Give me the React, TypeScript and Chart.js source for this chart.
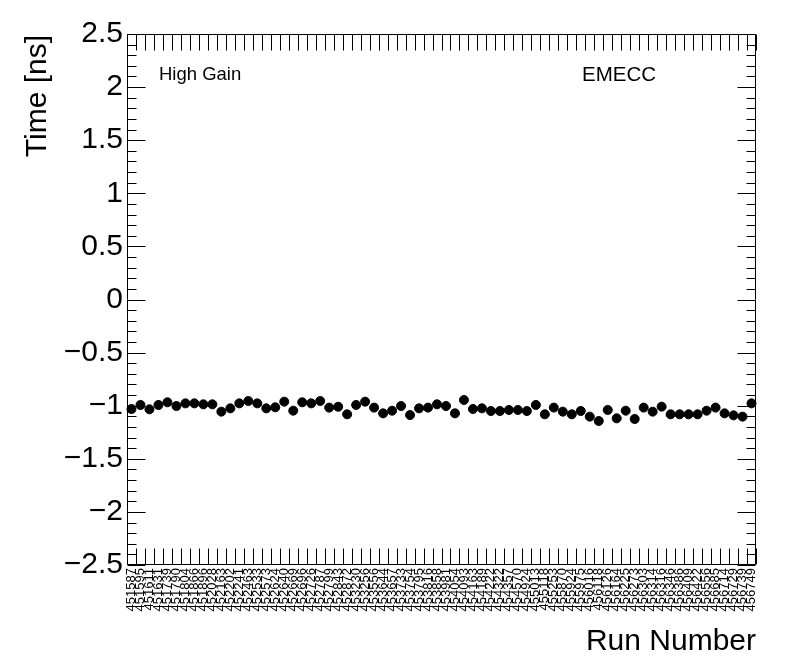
import React, { useEffect, useRef } from 'react';
import { Chart, registerables } from 'chart.js';
Chart.register(...registerables);

const runNumbers = [
  '451587', '451595', '451611', '451631', '451739', '451790', '451804', '451866', '451896', '452028',
  '452163', '452202', '452241', '452463', '452533', '452573', '452624', '452640', '452669', '452696',
  '452726', '452787', '452799', '452843', '452872', '453230', '453256', '453556', '453644', '453657',
  '453733', '453754', '453795', '453816', '453858', '453981', '454054', '454093', '454163', '454189',
  '454222', '454322', '454357', '454570', '454924', '455013', '455118', '455253', '455870', '455924',
  '455975', '456016', '456118', '456126', '456164', '456225', '456273', '456303', '456314', '456316',
  '456346', '456386', '456409', '456422', '456556', '456685', '456714', '456729', '456739', '456749',
];

const timeValues = [
  -1.031, -0.993, -1.034, -0.993, -0.968, -1.003, -0.978, -0.978, -0.987, -0.987,
  -1.056, -1.025, -0.978, -0.956, -0.978, -1.025, -1.015, -0.962, -1.047, -0.968,
  -0.978, -0.956, -1.018, -1.010, -1.081, -0.993, -0.962, -1.018, -1.072, -1.047,
  -1.003, -1.088, -1.025, -1.018, -0.987, -1.003, -1.072, -0.946, -1.031, -1.025,
  -1.050, -1.050, -1.040, -1.040, -1.050, -0.993, -1.081, -1.018, -1.056, -1.081,
  -1.050, -1.103, -1.144, -1.040, -1.119, -1.047, -1.125, -1.018, -1.056, -1.009,
  -1.081, -1.081, -1.081, -1.081, -1.047, -1.018, -1.072, -1.091, -1.103, -0.978,
];

const yMin = -2.5;
const yMax = 2.5;
const yStep = 0.5;
const yMinorStep = 0.1;

const xTitle = 'Run Number';
const yTitle = 'Time [ns]';
const gainText = 'High Gain';
const regionText = 'EMECC';

const FONT = '"Liberation Sans", Arial, Helvetica, sans-serif';

function fmt(v: number): string {
  const r = Math.round(v * 10) / 10;
  const s = String(Math.abs(r));
  return r < 0 ? '\u2212' + s : s;
}

const decorPlugin = {
  id: 'decor',
  afterDraw(chart: any) {
    const { ctx, chartArea: a, scales } = chart;
    const xs = scales.x;
    const ys = scales.y;
    const L = Math.round(a.left) + 0.5;
    const R = Math.round(a.right) - 0.5;
    const T = Math.round(a.top) + 0.5;
    const B = Math.round(a.bottom) - 0.5;
    ctx.save();
    ctx.strokeStyle = '#000';
    ctx.lineWidth = 1;
    ctx.beginPath();
    ctx.rect(L, T, R - L, B - T);
    const nMinor = Math.round((yMax - yMin) / yMinorStep);
    const perMajor = Math.round(yStep / yMinorStep);
    for (let k = 0; k <= nMinor; k++) {
      const v = yMin + k * yMinorStep;
      const py = Math.round(ys.getPixelForValue(v)) + 0.5;
      const len = k % perMajor === 0 ? 18 : 9;
      ctx.moveTo(L, py);
      ctx.lineTo(L + len, py);
      ctx.moveTo(R, py);
      ctx.lineTo(R - len, py);
    }
    const n = runNumbers.length;
    const half = (xs.getPixelForValue(1) - xs.getPixelForValue(0)) / 2;
    for (let i = 0; i <= n; i++) {
      const px = Math.round(xs.getPixelForValue(i) - half) + 0.5;
      ctx.moveTo(px, B);
      ctx.lineTo(px, B - 16);
      ctx.moveTo(px, T);
      ctx.lineTo(px, T + 16);
    }
    ctx.stroke();

    ctx.fillStyle = '#000';
    ctx.font = `30px ${FONT}`;
    ctx.textAlign = 'right';
    ctx.textBaseline = 'alphabetic';
    ctx.fillText(xTitle, a.right, 650);
    ctx.save();
    ctx.translate(46, 35);
    ctx.rotate(-Math.PI / 2);
    ctx.textAlign = 'right';
    ctx.textBaseline = 'alphabetic';
    ctx.fillText(yTitle, 0, 0);
    ctx.restore();
    ctx.textAlign = 'left';
    ctx.font = `18.5px ${FONT}`;
    ctx.fillText(gainText, 159, 80);
    ctx.font = `20.5px ${FONT}`;
    ctx.fillText(regionText, 582, 81);
    ctx.restore();
  },
};

export default function App() {
  const ref = useRef<HTMLCanvasElement | null>(null);
  useEffect(() => {
    if (!ref.current) return;
    const chart = new Chart(ref.current, {
      type: 'line',
      data: {
        labels: runNumbers,
        datasets: [
          {
            data: timeValues,
            showLine: false,
            pointRadius: 4.5,
            pointBorderWidth: 1,
            pointBackgroundColor: '#000',
            pointBorderColor: '#000',
            pointStyle: 'circle',
          },
        ],
      },
      options: {
        animation: false,
        responsive: false,
        maintainAspectRatio: false,
        devicePixelRatio: 1,
        layout: { padding: { left: 0, right: 40, top: 34, bottom: 0 } },
        plugins: { legend: { display: false }, tooltip: { enabled: false } },
        scales: {
          x: {
            type: 'category',
            offset: true,
            grid: { display: false, drawTicks: false, offset: true },
            border: { display: false },
            ticks: {
              autoSkip: false,
              minRotation: 90,
              maxRotation: 90,
              padding: 3,
              color: '#000',
              font: { size: 13, family: FONT },
            },
            afterFit(s: any) {
              s.height = 672 - 565;
            },
          },
          y: {
            min: yMin,
            max: yMax,
            grid: { display: false, drawTicks: false },
            border: { display: false },
            ticks: {
              stepSize: yStep,
              padding: 4,
              color: '#000',
              font: { size: 30, family: FONT },
              callback: (v: any) => fmt(Number(v)),
            },
            afterFit(s: any) {
              s.width = 127;
            },
          },
        },
      },
      plugins: [decorPlugin],
    });
    return () => chart.destroy();
  }, []);
  return (
    <div style={{ position: 'absolute', left: 0, top: 0, width: 796, height: 672, background: '#fff' }}>
      <canvas ref={ref} width={796} height={672} />
    </div>
  );
}
